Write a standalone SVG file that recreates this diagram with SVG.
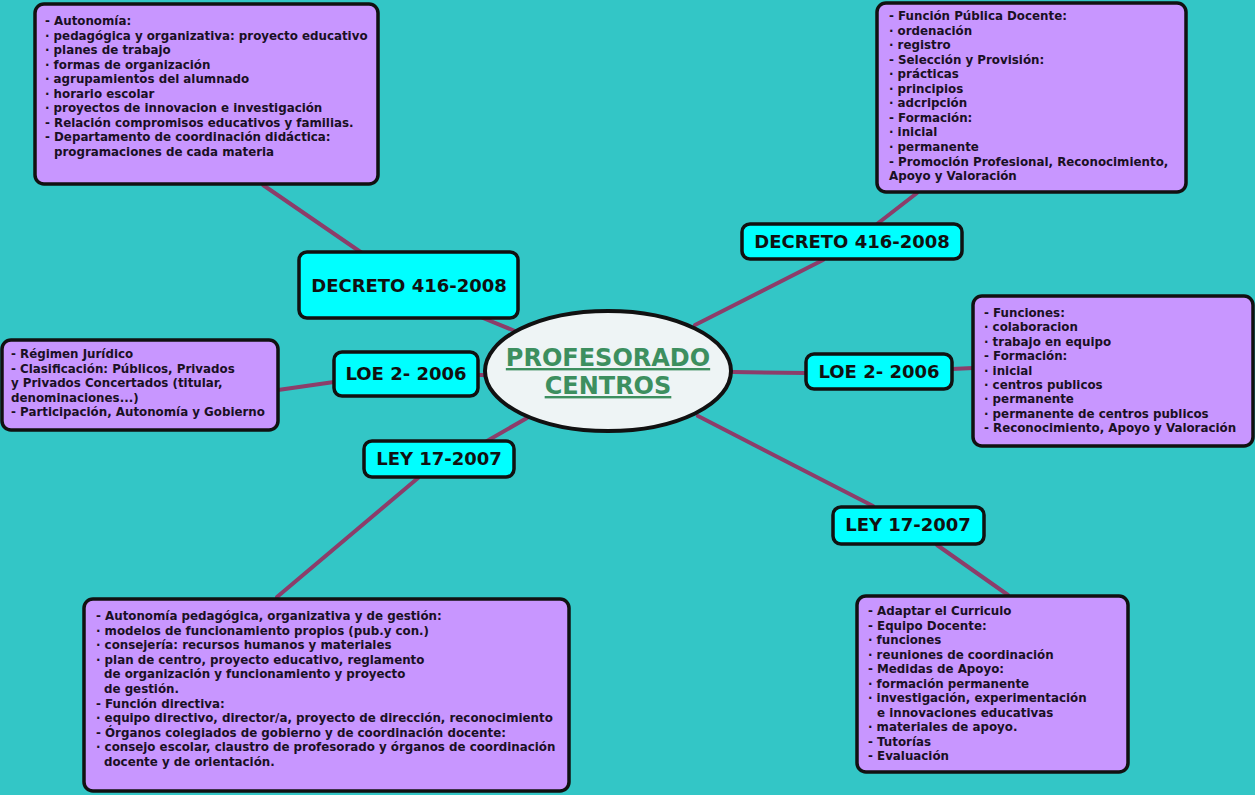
<svg xmlns="http://www.w3.org/2000/svg" width="1255" height="795" viewBox="0 0 1255 795">
<style>
.bg{fill:#33c6c6}
.box{fill:#c896ff;stroke:#111;stroke-width:3.5}
.lbl{fill:#00ffff;stroke:#111;stroke-width:3.5}
.t{font-family:"DejaVu Sans",Verdana,sans-serif;font-weight:bold;font-size:11.85px;fill:#1a1024}
.h{font-family:"DejaVu Sans",Verdana,sans-serif;font-weight:bold;font-size:18px;fill:#111;text-anchor:middle}
.c{font-family:"DejaVu Sans",Verdana,sans-serif;font-weight:bold;font-size:24px;fill:#3d8f5f;text-anchor:middle;text-decoration:underline}
.ln{stroke:#8c3d6a;stroke-width:4;fill:none;stroke-linecap:round}
</style>
<rect class="bg" x="0" y="0" width="1255" height="795"/>
<g id="connectors">
<line class="ln" x1="263" y1="185" x2="362" y2="253"/>
<line class="ln" x1="483" y1="318" x2="515" y2="331"/>
<line class="ln" x1="278" y1="390" x2="334" y2="382"/>
<line class="ln" x1="478" y1="375" x2="487" y2="375"/>
<line class="ln" x1="487" y1="441" x2="527" y2="418"/>
<line class="ln" x1="418" y1="478" x2="277" y2="597"/>
<line class="ln" x1="695" y1="325" x2="823" y2="260"/>
<line class="ln" x1="877" y1="224" x2="917" y2="193"/>
<line class="ln" x1="733" y1="372" x2="806" y2="373"/>
<line class="ln" x1="952" y1="369" x2="973" y2="368"/>
<line class="ln" x1="698" y1="416" x2="873" y2="506"/>
<line class="ln" x1="937" y1="545" x2="1008" y2="595"/>
</g>
<g id="center">
<ellipse cx="608" cy="371" rx="123" ry="60" fill="#eef4f5" stroke="#111" stroke-width="4"/>
<text class="c" x="608" y="366">PROFESORADO</text>
<text class="c" x="608" y="394">CENTROS</text>
</g>
<g id="decreto-left">
<rect class="lbl" x="299" y="252" width="219" height="66" rx="8"/>
<text class="h" x="409" y="292">DECRETO 416-2008</text>
</g>
<g id="loe-left">
<rect class="lbl" x="334" y="352" width="144" height="44" rx="8"/>
<text class="h" x="406" y="380">LOE 2- 2006</text>
</g>
<g id="ley-left">
<rect class="lbl" x="364" y="441" width="150" height="36" rx="8"/>
<text class="h" x="439" y="465">LEY 17-2007</text>
</g>
<g id="decreto-right">
<rect class="lbl" x="742" y="224" width="220" height="35" rx="8"/>
<text class="h" x="852" y="248">DECRETO 416-2008</text>
</g>
<g id="loe-right">
<rect class="lbl" x="806" y="354" width="146" height="35" rx="8"/>
<text class="h" x="879" y="378">LOE 2- 2006</text>
</g>
<g id="ley-right">
<rect class="lbl" x="833" y="507" width="151" height="37" rx="8"/>
<text class="h" x="908" y="531">LEY 17-2007</text>
</g>
<g id="box-top-left">
<rect class="box" x="35" y="4" width="343" height="180" rx="9"/>
<text class="t" y="25">
<tspan x="45">- Autonomía:</tspan>
<tspan x="45" dy="14.55">· pedagógica y organizativa: proyecto educativo</tspan>
<tspan x="45" dy="14.55">· planes de trabajo</tspan>
<tspan x="45" dy="14.55">· formas de organización</tspan>
<tspan x="45" dy="14.55">· agrupamientos del alumnado</tspan>
<tspan x="45" dy="14.55">· horario escolar</tspan>
<tspan x="45" dy="14.55">· proyectos de innovacion e investigación</tspan>
<tspan x="45" dy="14.55">- Relación compromisos educativos y familias.</tspan>
<tspan x="45" dy="14.55">- Departamento de coordinación didáctica:</tspan>
<tspan x="54" dy="14.55">programaciones de cada materia</tspan>
</text>
</g>
<g id="box-top-right">
<rect class="box" x="877" y="3" width="309" height="189" rx="9"/>
<text class="t" y="20">
<tspan x="889">- Función Pública Docente:</tspan>
<tspan x="889" dy="14.55">· ordenación</tspan>
<tspan x="889" dy="14.55">· registro</tspan>
<tspan x="889" dy="14.55">- Selección y Provisión:</tspan>
<tspan x="889" dy="14.55">· prácticas</tspan>
<tspan x="889" dy="14.55">· principios</tspan>
<tspan x="889" dy="14.55">· adcripción</tspan>
<tspan x="889" dy="14.55">- Formación:</tspan>
<tspan x="889" dy="14.55">· inicial</tspan>
<tspan x="889" dy="14.55">· permanente</tspan>
<tspan x="889" dy="14.55">- Promoción Profesional, Reconocimiento,</tspan>
<tspan x="889" dy="14.55">Apoyo y Valoración</tspan>
</text>
</g>
<g id="box-left">
<rect class="box" x="2" y="340" width="276" height="90" rx="9"/>
<text class="t" y="358">
<tspan x="11">- Régimen Jurídico</tspan>
<tspan x="11" dy="14.6">- Clasificación: Públicos, Privados</tspan>
<tspan x="11" dy="14.6">y Privados Concertados (titular,</tspan>
<tspan x="11" dy="14.6">denominaciones...)</tspan>
<tspan x="11" dy="14.6">- Participación, Autonomía y Gobierno</tspan>
</text>
</g>
<g id="box-right">
<rect class="box" x="973" y="296" width="280" height="150" rx="9"/>
<text class="t" y="317">
<tspan x="984">- Funciones:</tspan>
<tspan x="984" dy="14.4">· colaboracion</tspan>
<tspan x="984" dy="14.4">· trabajo en equipo</tspan>
<tspan x="984" dy="14.4">- Formación:</tspan>
<tspan x="984" dy="14.4">· inicial</tspan>
<tspan x="984" dy="14.4">· centros publicos</tspan>
<tspan x="984" dy="14.4">· permanente</tspan>
<tspan x="984" dy="14.4">· permanente de centros publicos</tspan>
<tspan x="984" dy="14.4">- Reconocimiento, Apoyo y Valoración</tspan>
</text>
</g>
<g id="box-bottom-left">
<rect class="box" x="84" y="599" width="485" height="192" rx="9"/>
<text class="t" y="620">
<tspan x="96">- Autonomía pedagógica, organizativa y de gestión:</tspan>
<tspan x="96" dy="14.6">· modelos de funcionamiento propios (pub.y con.)</tspan>
<tspan x="96" dy="14.6">· consejería: recursos humanos y materiales</tspan>
<tspan x="96" dy="14.6">· plan de centro, proyecto educativo, reglamento</tspan>
<tspan x="104" dy="14.6">de organización y funcionamiento y proyecto</tspan>
<tspan x="104" dy="14.6">de gestión.</tspan>
<tspan x="96" dy="14.6">- Función directiva:</tspan>
<tspan x="96" dy="14.6">· equipo directivo, director/a, proyecto de dirección, reconocimiento</tspan>
<tspan x="96" dy="14.6">- Órganos colegiados de gobierno y de coordinación docente:</tspan>
<tspan x="96" dy="14.6">· consejo escolar, claustro de profesorado y órganos de coordinación</tspan>
<tspan x="104" dy="14.6">docente y de orientación.</tspan>
</text>
</g>
<g id="box-bottom-right">
<rect class="box" x="857" y="596" width="271" height="176" rx="9"/>
<text class="t" y="615">
<tspan x="868">- Adaptar el Curriculo</tspan>
<tspan x="868" dy="14.5">- Equipo Docente:</tspan>
<tspan x="868" dy="14.5">· funciones</tspan>
<tspan x="868" dy="14.5">· reuniones de coordinación</tspan>
<tspan x="868" dy="14.5">- Medidas de Apoyo:</tspan>
<tspan x="868" dy="14.5">· formación permanente</tspan>
<tspan x="868" dy="14.5">· investigación, experimentación</tspan>
<tspan x="877" dy="14.5">e innovaciones educativas</tspan>
<tspan x="868" dy="14.5">· materiales de apoyo.</tspan>
<tspan x="868" dy="14.5">- Tutorías</tspan>
<tspan x="868" dy="14.5">- Evaluación</tspan>
</text>
</g>
</svg>
